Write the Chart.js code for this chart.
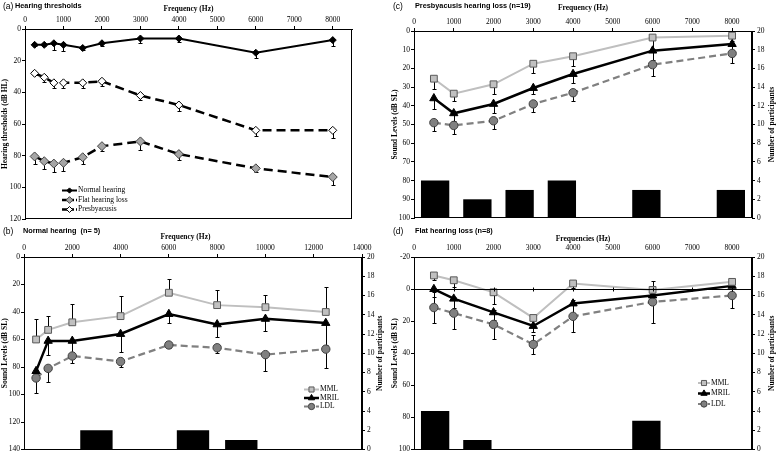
<!DOCTYPE html>
<html>
<head>
<meta charset="utf-8">
<script src="https://cdn.jsdelivr.net/npm/chart.js@4.4.0/dist/chart.umd.min.js"></script>
<style>
body { margin: 0; background: #fff; }
#wrap { position: relative; width: 780px; height: 456px; overflow: hidden; }
canvas { position: absolute; }
.pl { position: absolute; font-family: "Liberation Sans", Arial, sans-serif; color: #000; white-space: pre; line-height: 1; }
.pn { font-size: 8.5px; }
.pt { font-size: 7.3px; font-weight: bold; }
</style>
</head>
<body>
<div id="wrap">
  <canvas id="ca" width="390" height="228" style="left:0;top:0"></canvas>
  <canvas id="cb" width="390" height="228" style="left:0;top:228px"></canvas>
  <canvas id="cc" width="390" height="228" style="left:390px;top:0"></canvas>
  <canvas id="cd" width="390" height="228" style="left:390px;top:228px"></canvas>
  <span class="pl pn" style="left:3px;top:1.5px">(a)</span>
  <span class="pl pt" style="left:15px;top:2px">Hearing thresholds</span>
  <span class="pl pn" style="left:3px;top:226.5px">(b)</span>
  <span class="pl pt" style="left:23px;top:227px">Normal hearing  (n= 5)</span>
  <span class="pl pn" style="left:393px;top:1.5px">(c)</span>
  <span class="pl pt" style="left:415px;top:2px">Presbyacusis hearing loss (n=19)</span>
  <span class="pl pn" style="left:393px;top:226.5px">(d)</span>
  <span class="pl pt" style="left:415px;top:227px">Flat hearing loss (n=8)</span>
</div>
<script>
const SERIF = '"Liberation Serif", "Times New Roman", serif';

// tick values
const freqTicks = [0, 1000, 2000, 3000, 4000, 5000, 6000, 7000, 8000];
const bFreqTicks = [0, 2000, 4000, 6000, 8000, 10000, 12000, 14000];
const aYTicks = [0, 20, 40, 60, 80, 100, 120];
const bYTicks = [0, 20, 40, 60, 80, 100, 120, 140];
const cYTicks = [0, 10, 20, 30, 40, 50, 60, 70, 80, 90, 100];
const dYTicks = [-20, 0, 20, 40, 60, 80, 100];
const countTicks = [0, 2, 4, 6, 8, 10, 12, 14, 16, 18, 20];

// (a) hearing thresholds
const aFreq = [250, 500, 750, 1000, 1500, 2000, 3000, 4000, 6000, 8000];
const aNormal = [10, 10, 9, 10, 12, 9, 6, 6, 15, 7];
const aNormalErr = [1, 1, 4, 4, 1.5, 1.5, 3, 2.5, 3.5, 3.5];
const aFlat = [80.5, 83.5, 85, 84.5, 81, 74, 71, 79, 88, 93.5];
const aFlatErr = [4.5, 5, 5, 5, 4, 3, 5.5, 4, 2.5, 5];
const aPresby = [28, 30.5, 34, 34, 34, 33, 42, 48, 64, 64];
const aPresbyErr = [1, 3, 3.5, 3.5, 3, 3, 3, 4, 3.5, 5];

// (b) normal hearing
const bFreq = [500, 1000, 2000, 4000, 6000, 8000, 10000, 12500];
const bMML = [60, 53, 47.5, 43, 26, 35, 36.5, 40];
const bMMLErr = [15, 10, 13, 15, 10, 11, 9, 18];
const bMRIL = [83, 61, 61, 56, 41.5, 49, 45, 48];
const bMRILErr = [5, 10, 11, 13, 6.5, 9, 9, 16];
const bLDL = [88, 81, 72, 76, 64, 66, 71, 67];
const bLDLErr = [11, 10, 5, 4, 2, 4, 12, 14];
const bSlots = ['1', '2', '3', '4', '5', '6', '7'];
const bCounts = [0, 2, 0, 2, 1, 0, 0];

// (c) presbyacusis
const cFreq = [500, 1000, 2000, 3000, 4000, 6000, 8000];
const cMML = [25.5, 33.5, 28.5, 17.5, 13.5, 3.5, 2.5];
const cMMLErr = [5.5, 4, 5, 5, 5, 6, 3];
const cMRIL = [36, 44, 39, 30.5, 23, 10.5, 7];
const cMRILErr = [5.5, 4, 5, 3, 5, 5, 3];
const cLDL = [49, 50.5, 48, 39, 33, 18, 12];
const cLDLErr = [4.5, 4.5, 4.5, 4.5, 4.5, 6, 5];
const cSlots = ['1', '2', '3', '4', '5', '6', '7', '8'];
const cCounts = [4, 2, 3, 4, 0, 3, 0, 3];

// (d) flat hearing loss
const dFreq = [500, 1000, 2000, 3000, 4000, 6000, 8000];
const dMML = [-8.5, -5.5, 2, 18, -3.5, 0.5, -4.5];
const dMMLErr = [3, 4, 7, 4, 3, 3, 3];
const dMRIL = [0, 6, 14.5, 23, 9, 4, -2];
const dMRILErr = [5, 6, 5, 4, 6, 5, 4];
const dLDL = [11.5, 15, 22, 34.5, 17, 8, 4];
const dLDLErr = [9.5, 10, 9, 6, 10, 13, 8];
const dSlots = ['1', '2', '3', '4', '5', '6', '7', '8'];
const dCounts = [4, 1, 0, 0, 0, 3, 0, 0];

function pts(xs, ys) {
  return xs.map((x, i) => ({ x: x, y: ys[i] }));
}

// styles
const normalStyle = { borderColor: '#000', borderWidth: 2, pointStyle: 'rectRot', pointRadius: 3.5, pointBackgroundColor: '#000', pointBorderColor: '#000', pointBorderWidth: 1 };
const flatStyle = { borderColor: '#000', borderWidth: 2.5, borderDash: [9, 5], pointStyle: 'rectRot', pointRadius: 4.5, pointBackgroundColor: '#a6a6a6', pointBorderColor: '#404040', pointBorderWidth: 1 };
const presbyStyle = { borderColor: '#000', borderWidth: 2.5, borderDash: [9, 5], pointStyle: 'rectRot', pointRadius: 4, pointBackgroundColor: '#fff', pointBorderColor: '#000', pointBorderWidth: 1 };
const mmlStyle = { borderColor: '#bfbfbf', borderWidth: 2, pointStyle: 'rect', pointRadius: 4.8, pointBackgroundColor: '#c0c0c0', pointBorderColor: '#5a5a5a', pointBorderWidth: 1 };
const mrilStyle = { borderColor: '#000', borderWidth: 2.5, pointStyle: 'triangle', pointRadius: 4.8, pointBackgroundColor: '#000', pointBorderColor: '#000', pointBorderWidth: 1 };
const ldlStyle = { borderColor: '#808080', borderWidth: 2.2, borderDash: [7, 4], pointStyle: 'circle', pointRadius: 4.2, pointBackgroundColor: '#808080', pointBorderColor: '#404040', pointBorderWidth: 1 };

function lineSet(label, xs, ys, err, dir, style) {
  return Object.assign({
    type: 'line', label: label, data: pts(xs, ys), err: err, errDir: dir,
    xAxisID: 'x', yAxisID: 'y', fill: false, tension: 0, order: 1
  }, style);
}

function barSet(counts) {
  return {
    type: 'bar', label: 'n', data: counts, xAxisID: 'x2', yAxisID: 'y2', grouped: false,
    backgroundColor: '#000', barPercentage: 0.67, categoryPercentage: 1, order: 10
  };
}

const tickFont = { family: SERIF, size: 7.5 };
const titleFont = { family: SERIF, size: 7.5, weight: 'bold' };

function xTop(title, max, ticks, height, titlePad, drawTicks) {
  return {
    type: 'linear', position: 'top', min: 0, max: max,
    afterBuildTicks: s => { s.ticks = ticks.map(v => ({ value: v })); },
    afterFit: s => { s.height = height; },
    ticks: { font: tickFont, color: '#000', padding: drawTicks ? 1 : 4, maxRotation: 0, autoSkip: false, callback: v => String(v) },
    grid: { drawOnChartArea: false, drawTicks: drawTicks, tickLength: 3, color: '#000' },
    border: { color: '#000' },
    title: { display: true, text: title, font: titleFont, color: '#000', padding: { top: titlePad, bottom: 0 } }
  };
}

function yLeft(title, min, max, ticks, width) {
  return {
    type: 'linear', position: 'left', reverse: true, min: min, max: max,
    afterBuildTicks: s => { s.ticks = ticks.map(v => ({ value: v })); },
    afterFit: s => { s.width = width; },
    ticks: { font: tickFont, color: '#000', padding: 1, autoSkip: false, callback: v => String(v) },
    grid: { drawOnChartArea: false, tickLength: 3, color: '#000' },
    border: { color: '#000' },
    title: { display: true, text: title, font: titleFont, color: '#000', padding: { top: 1, bottom: 0 } }
  };
}

function yRight(width) {
  return {
    type: 'linear', position: 'right', min: 0, max: 20,
    afterBuildTicks: s => { s.ticks = countTicks.map(v => ({ value: v })); },
    afterFit: s => { s.width = width; },
    ticks: { font: tickFont, color: '#000', padding: 2, autoSkip: false, callback: v => String(v) },
    grid: { drawOnChartArea: false, tickLength: 3, color: '#000' },
    border: { color: '#000' }
  };
}

function xSlots(slots) {
  return { type: 'category', labels: slots, display: false, offset: true, grid: { offset: true } };
}

// error bars drawn from each dataset's err array
const errorBars = {
  id: 'errorBars',
  beforeDatasetsDraw(chart) {
    const ctx = chart.ctx;
    chart.data.datasets.forEach((ds, di) => {
      if (!ds.err) return;
      const meta = chart.getDatasetMeta(di);
      const ys = chart.scales[ds.yAxisID];
      ctx.save();
      ctx.strokeStyle = '#000';
      ctx.lineWidth = 1;
      meta.data.forEach((p, i) => {
        const v = ds.data[i].y, e = ds.err[i];
        const ends = [];
        if (ds.errDir !== 'up') ends.push(v + e);
        if (ds.errDir !== 'down') ends.push(v - e);
        ends.forEach(t => {
          const yt = Math.round(ys.getPixelForValue(t)) + 0.5;
          const x = Math.round(p.x) + 0.5;
          ctx.beginPath();
          ctx.moveTo(x, p.y);
          ctx.lineTo(x, yt);
          ctx.moveTo(x - 2, yt);
          ctx.lineTo(x + 2, yt);
          ctx.stroke();
        });
      });
      ctx.restore();
    });
  }
};

// box around plot area (+ zero line for panel d)
const frame = {
  id: 'frame',
  afterDatasetsDraw(chart, args, o) {
    const a = chart.chartArea, ctx = chart.ctx;
    ctx.save();
    ctx.strokeStyle = '#000';
    ctx.lineWidth = 1;
    ctx.strokeRect(Math.round(a.left) + 0.5, Math.round(a.top) + 0.5, Math.round(a.width) - 1, Math.round(a.height) - 1);
    if (o.zeroLine) {
      const y0 = Math.round(chart.scales.y.getPixelForValue(0)) + 0.5;
      ctx.beginPath();
      ctx.moveTo(a.left, y0);
      ctx.lineTo(a.right, y0);
      chart.scales.x.ticks.forEach(t => {
        const x = Math.round(chart.scales.x.getPixelForValue(t.value)) + 0.5;
        ctx.moveTo(x, y0 - 2);
        ctx.lineTo(x, y0 + 2);
      });
      ctx.stroke();
    }
    ctx.restore();
  }
};

// legend inside the plot
const legendBox = {
  id: 'legendBox',
  afterDraw(chart, args, o) {
    if (!o.x) return;
    const ctx = chart.ctx;
    let y = o.y;
    chart.data.datasets.forEach(ds => {
      if (ds.type !== 'line') return;
      ctx.save();
      ctx.strokeStyle = ds.borderColor;
      ctx.lineWidth = ds.borderWidth;
      ctx.setLineDash(ds.borderDash ? o.dash : []);
      ctx.beginPath();
      ctx.moveTo(o.x, y);
      ctx.lineTo(o.x + o.len, y);
      ctx.stroke();
      ctx.setLineDash([]);
      ctx.fillStyle = ds.pointBackgroundColor;
      ctx.strokeStyle = ds.pointBorderColor;
      ctx.lineWidth = ds.pointBorderWidth;
      Chart.helpers.drawPoint(ctx, { pointStyle: ds.pointStyle, radius: ds.pointRadius * 0.75, rotation: 0, borderWidth: ds.pointBorderWidth }, o.x + o.len / 2, y);
      ctx.fillStyle = '#000';
      ctx.font = o.size + 'px ' + SERIF;
      ctx.textBaseline = 'middle';
      ctx.textAlign = 'left';
      ctx.fillText(ds.label, o.x + o.len + 1, y);
      ctx.restore();
      y += o.dy;
    });
  }
};

// secondary axis title, reading bottom to top
const rightTitle = {
  id: 'rightTitle',
  afterDraw(chart, args, o) {
    if (!o.text) return;
    const a = chart.chartArea, ctx = chart.ctx;
    ctx.save();
    ctx.translate(o.x, (a.top + a.bottom) / 2);
    ctx.rotate(-Math.PI / 2);
    ctx.font = 'bold 7.5px ' + SERIF;
    ctx.fillStyle = '#000';
    ctx.textAlign = 'center';
    ctx.textBaseline = 'middle';
    ctx.fillText(o.text, 0, 0);
    ctx.restore();
  }
};

Chart.register(errorBars, frame, legendBox, rightTitle);

function makeChart(id, datasets, scales, pad, extra) {
  return new Chart(document.getElementById(id), {
    type: 'line',
    data: { datasets: datasets },
    options: {
      responsive: false,
      animation: false,
      devicePixelRatio: 1,
      layout: { padding: pad },
      scales: scales,
      plugins: Object.assign({ legend: { display: false }, tooltip: { enabled: false } }, extra)
    }
  });
}

// (a)
makeChart('ca', [
  lineSet('Normal hearing', aFreq, aNormal, aNormalErr, 'down', normalStyle),
  lineSet('Flat hearing loss', aFreq, aFlat, aFlatErr, 'down', flatStyle),
  lineSet('Presbyacusis', aFreq, aPresby, aPresbyErr, 'down', presbyStyle)
], {
  x: xTop('Frequency (Hz)', 8500, freqTicks, 29, 5, true),
  y: yLeft('Hearing thresholds (dB HL)', 0, 120, aYTicks, 25)
}, { left: 0, top: 0, right: 38, bottom: 9 }, {
  legendBox: { x: 62, y: 190.5, dy: 9.5, len: 15, size: 7.5, dash: [5, 2] }
});

// (b)
makeChart('cb', [
  lineSet('MML', bFreq, bMML, bMMLErr, 'up', mmlStyle),
  lineSet('MRIL', bFreq, bMRIL, bMRILErr, 'down', mrilStyle),
  lineSet('LDL', bFreq, bLDL, bLDLErr, 'down', ldlStyle),
  barSet(bCounts)
], {
  x: xTop('Frequency (Hz)        ', 14000, bFreqTicks, 29, 5, true),
  x2: xSlots(bSlots),
  y: yLeft('Sound Levels (dB SL)', 0, 140, bYTicks, 24),
  y2: yRight(28)
}, { left: 0, top: 0, right: 0, bottom: 6 }, {
  legendBox: { x: 304, y: 161.5, dy: 8.5, len: 15, size: 7.5, dash: [4, 2] },
  rightTitle: { text: 'Number of participants', x: 380.5 }
});

// (c)
makeChart('cc', [
  lineSet('MML', cFreq, cMML, cMMLErr, 'down', mmlStyle),
  lineSet('MRIL', cFreq, cMRIL, cMRILErr, 'down', mrilStyle),
  lineSet('LDL', cFreq, cLDL, cLDLErr, 'down', ldlStyle),
  barSet(cCounts)
], {
  x: xTop('Frequency (Hz)', 8500, freqTicks, 31, 3.5, true),
  x2: xSlots(cSlots),
  y: yLeft('Sound Levels (dB SL)', 0, 100, cYTicks, 24),
  y2: yRight(28)
}, { left: 0, top: 0, right: 0, bottom: 10 }, {
  legendBox: { x: 702, y: 155, dy: 9, len: 9, size: 7.5, dash: [3, 2] },
  rightTitle: { text: 'Number of participants', x: 382 }
});

// (d)
makeChart('cd', [
  lineSet('MML', dFreq, dMML, dMMLErr, 'down', mmlStyle),
  lineSet('MRIL', dFreq, dMRIL, dMRILErr, 'down', mrilStyle),
  lineSet('LDL', dFreq, dLDL, dLDLErr, 'both', ldlStyle),
  barSet(dCounts)
], {
  x: xTop('Frequencies (Hz)', 8500, freqTicks, 29, 7, false),
  x2: xSlots(dSlots),
  y: yLeft('Sound Levels (dB SL)', -20, 100, dYTicks, 24),
  y2: yRight(28)
}, { left: 0, top: 0, right: 0, bottom: 6 }, {
  frame: { zeroLine: true },
  legendBox: { x: 308, y: 155, dy: 10.5, len: 12, size: 7.5, dash: [3, 2] },
  rightTitle: { text: 'Number of participants', x: 382 }
});
</script>
</body>
</html>
